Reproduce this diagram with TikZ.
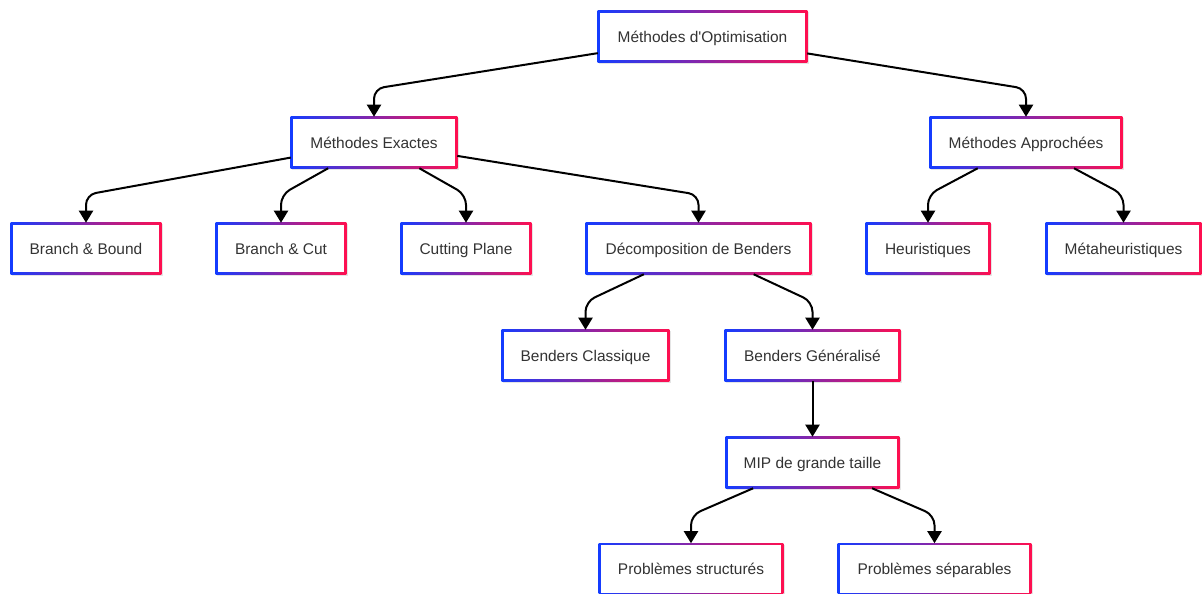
\documentclass[tikz,border=0pt]{standalone}
\usepackage{fontspec}
\setmainfont{Liberation Sans}
\usepackage{xcolor}
\usetikzlibrary{arrows.meta, backgrounds}
\definecolor{edgeblue}{RGB}{20,60,255}
\definecolor{edgered}{RGB}{255,15,80}
\definecolor{txtgray}{RGB}{51,51,51}

\begin{document}
\begin{tikzpicture}[x=0.75pt, y=0.75pt, >={Triangle[width=10.5pt,length=9pt]},
                    box/.style={rectangle, inner sep=0pt, minimum height=38.25pt,
                    minimum width=#1*0.75pt, text=txtgray, text height=10pt,
                    text depth=1.75pt, font=\fontsize{11.6}{14}\selectfont},
                    link/.style={->, black, line width=1.5pt, rounded corners=7.5pt}]
  \useasboundingbox (0,0) rectangle (1202,-593);
  % nodes
  \node[box=209] (root)       at (702.5,-36.5)  {Méthodes d\textquotesingle Optimisation};
  \node[box=166] (exactes)    at (374,-142.5)   {Méthodes Exactes};
  \node[box=192] (approchees) at (1026,-142.5)  {Méthodes Approchées};
  \node[box=150] (bb)         at (86,-248.5)    {Branch \& Bound};
  \node[box=130] (bc)         at (281,-248.5)   {Branch \& Cut};
  \node[box=130] (cp)         at (466,-248.5)   {Cutting Plane};
  \node[box=225] (decomp)     at (698.5,-248.5) {Décomposition de Benders};
  \node[box=124] (heur)       at (928,-248.5)   {Heuristiques};
  \node[box=155] (meta)       at (1123.5,-248.5){Métaheuristiques};
  \node[box=167] (classique)  at (585.5,-355.5) {Benders Classique};
  \node[box=175] (generalise) at (812.5,-355.5) {Benders Généralisé};
  \node[box=173] (mip)        at (812.5,-462.5) {MIP de grande taille};
  \node[box=184] (struct)     at (691,-569)     {Problèmes structurés};
  \node[box=193] (separ)      at (934.5,-569)   {Problèmes séparables};

  % gradient frames
  \begin{scope}[on background layer]
    \foreach \n in {root,exactes,approchees,bb,bc,cp,decomp,heur,meta,
                    classique,generalise,mip,struct,separ}{
      \fill[black, opacity=0.10] ([shift={(1.5,-1.5)}]\n.south west)
        rectangle ([shift={(1.5,-1.5)}]\n.north east);
      \shade[left color=edgeblue, right color=edgered] (\n.south west)
        rectangle (\n.north east);
      \fill[white] ([shift={(2,2)}]\n.south west)
        rectangle ([shift={(-2,-2)}]\n.north east);
    }
  \end{scope}

  % connectors
  \draw[link] (root) -- ([yshift=21pt]exactes.north) -- (exactes);
  \draw[link] (root) -- ([yshift=21pt]approchees.north) -- (approchees);
  \draw[link] (exactes) -- ([yshift=21pt]bb.north) -- (bb);
  \draw[link] (exactes) -- ([yshift=21pt]bc.north) -- (bc);
  \draw[link] (exactes) -- ([yshift=21pt]cp.north) -- (cp);
  \draw[link] (exactes) -- ([yshift=21pt]decomp.north) -- (decomp);
  \draw[link] (approchees) -- ([yshift=21pt]heur.north) -- (heur);
  \draw[link] (approchees) -- ([yshift=21pt]meta.north) -- (meta);
  \draw[link] (decomp) -- ([yshift=21pt]classique.north) -- (classique);
  \draw[link] (decomp) -- ([yshift=21pt]generalise.north) -- (generalise);
  \draw[link] (generalise) -- (mip);
  \draw[link] (mip) -- ([yshift=21pt]struct.north) -- (struct);
  \draw[link] (mip) -- ([yshift=21pt]separ.north) -- (separ);
\end{tikzpicture}
\end{document}
